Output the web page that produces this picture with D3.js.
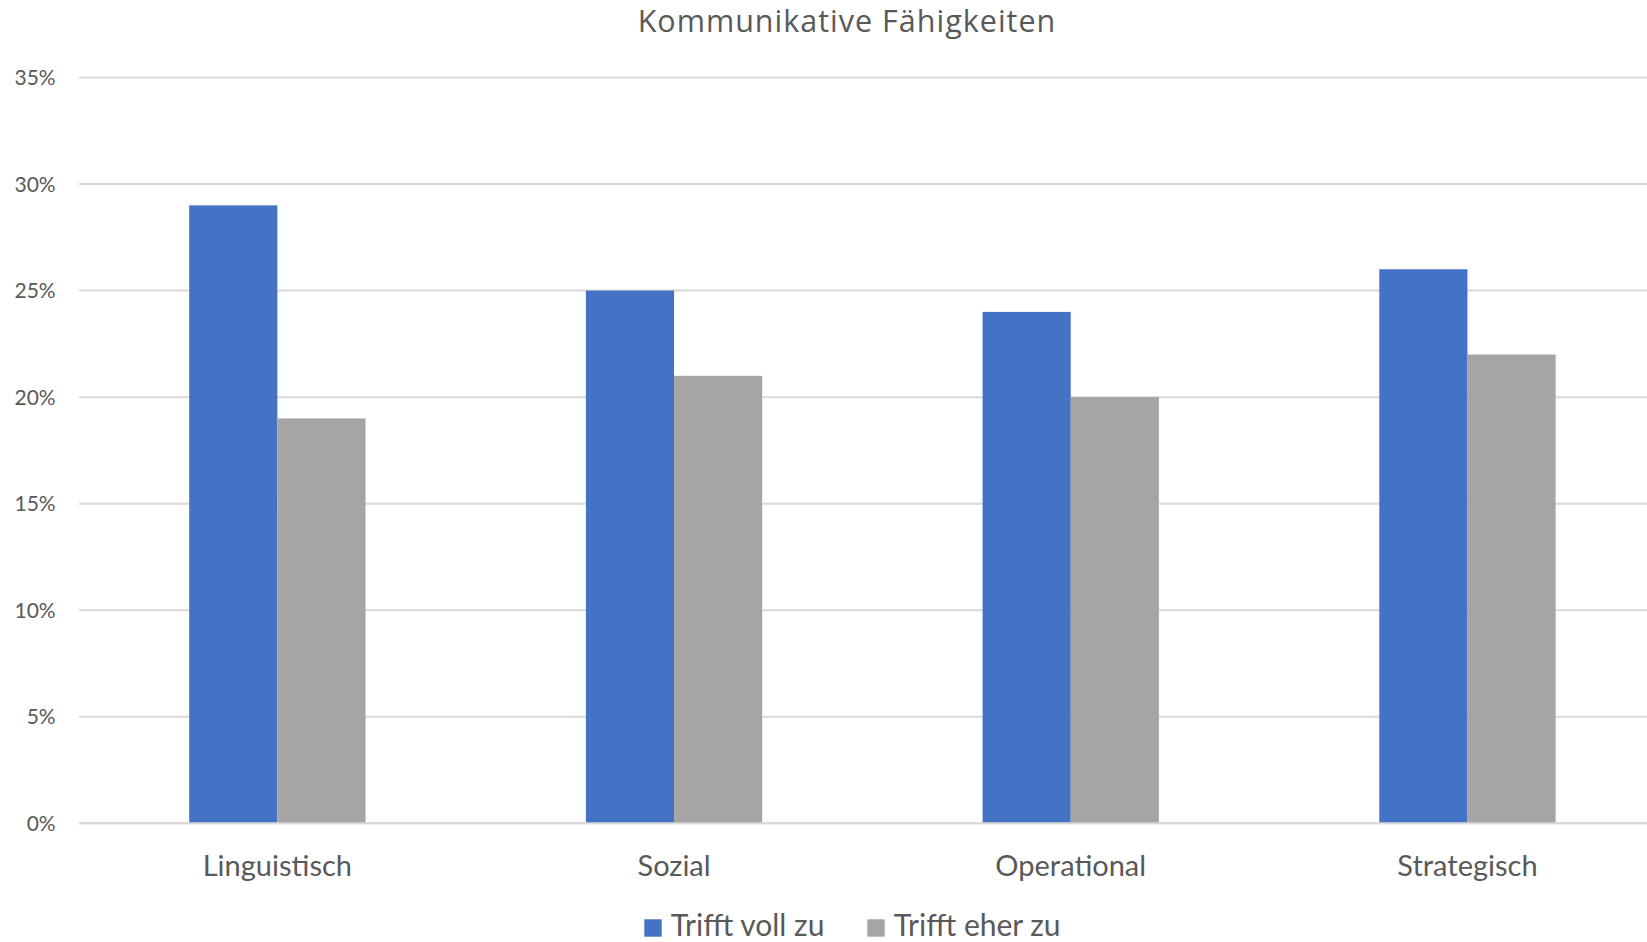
<!DOCTYPE html>
<html><head><meta charset="utf-8">
<script src="https://cdn.jsdelivr.net/npm/d3@7"></script>
<style>body{margin:0;background:#fff}svg{display:block}text{font-family:Lato,"Open Sans",sans-serif;fill:#595959}</style>
</head><body>
<svg id="c" width="1647" height="942"></svg>
<script>
const title = "Kommunikative Fähigkeiten";
const categories = ["Linguistisch", "Sozial", "Operational", "Strategisch"];
const seriesNames = ["Trifft voll zu", "Trifft eher zu"];
const trifftVollZu = [0.29, 0.25, 0.24, 0.26];
const trifftEherZu = [0.19, 0.21, 0.20, 0.22];
const yTicks = [0, 0.05, 0.10, 0.15, 0.20, 0.25, 0.30, 0.35];
const colors = ["#4472C4", "#A5A5A5"];

(function () {
const seriesValues = [trifftVollZu, trifftEherZu];
const svg = d3.select("#c");
const mLeft = 79, mRight = 1665.8, mTop = 77.5, mBottom = 823.3;

const x = d3.scaleBand().domain(categories).range([mLeft, mRight]).padding(0);
const xs = d3.scaleBand().domain(seriesNames).range([0, x.bandwidth()]).paddingInner(0).paddingOuter(1.25);
const y = d3.scaleLinear().domain([0, 0.35]).range([mBottom, mTop]);

svg.append("g").selectAll("line").data(yTicks).join("line")
  .attr("x1", mLeft).attr("x2", mRight)
  .attr("y1", d => y(d)).attr("y2", d => y(d))
  .attr("stroke", "#D9D9D9").attr("stroke-width", 2);

svg.append("g").selectAll("text").data(yTicks).join("text")
  .attr("x", 55.7).attr("y", d => y(d)).attr("dy", "0.36em")
  .attr("text-anchor", "end").style("font-size", "21px")
  .text(d => d3.format(".0%")(d));

const g = svg.append("g");
seriesNames.forEach((s, si) => {
  g.append("g").selectAll("rect").data(categories).join("rect")
    .attr("x", c => x(c) + xs(s))
    .attr("width", xs.bandwidth())
    .attr("y", (c, i) => y(seriesValues[si][i]))
    .attr("height", (c, i) => y(0) - y(seriesValues[si][i]))
    .attr("fill", colors[si]);
});

svg.append("line").attr("x1", mLeft).attr("x2", mRight).attr("y1", y(0)).attr("y2", y(0))
  .attr("stroke", "#D9D9D9").attr("stroke-width", 2);

svg.append("g").selectAll("text").data(categories).join("text")
  .attr("x", c => x(c) + x.bandwidth() / 2).attr("y", 876)
  .attr("text-anchor", "middle").style("font-size", "29px")
  .text(c => c);

svg.append("text").attr("x", 847).attr("y", 31.5).attr("text-anchor", "middle")
  .style("font-family", "'Open Sans', sans-serif")
  .style("letter-spacing", "1px")
  .style("font-size", "30.5px").text(title);

const legendX = [644.3, 867.3];
const lg = svg.append("g");
seriesNames.forEach((s, i) => {
  lg.append("rect").attr("x", legendX[i]).attr("y", 919.3).attr("width", 17.4).attr("height", 17.4).attr("fill", colors[i]);
  lg.append("text").attr("x", legendX[i] + 26.4).attr("y", 936).style("font-size", "30px").text(s);
});
})();
</script>
</body></html>
